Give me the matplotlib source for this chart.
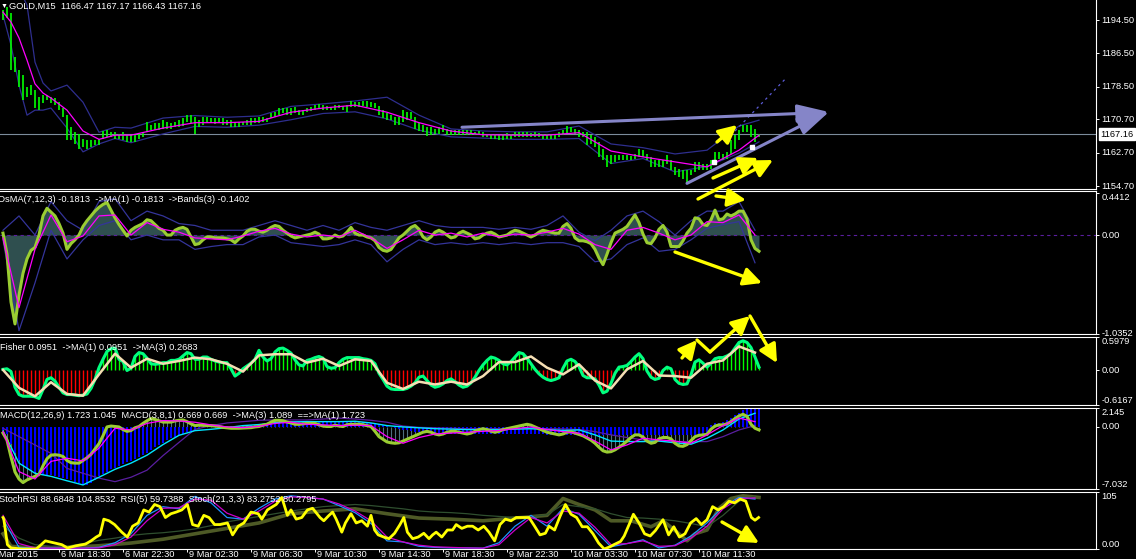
import numpy as np
import matplotlib
matplotlib.use("Agg")
import matplotlib.pyplot as plt
from matplotlib.patches import FancyArrowPatch

plt.rcParams['font.family'] = ['Liberation Sans', 'DejaVu Sans']

# ======================= DATA =======================
chart_title = "GOLD,M15  1166.47 1167.17 1166.43 1167.16"
osma_title = "OsMA(7,12,3) -0.1813  ->MA(1) -0.1813  ->Bands(3) -0.1402"
fisher_title = "Fisher 0.0951  ->MA(1) 0.0951  ->MA(3) 0.2683"
macd_title = "MACD(12,26,9) 1.723 1.045  MACD(3,8,1) 0.669 0.669  ->MA(3) 1.089  ==>MA(1) 1.723"
stoch_title = "StochRSI 88.6848 104.8532  RSI(5) 59.7388  Stoch(21,3,3) 83.2752 80.2795"

price_ticks = [1194.5, 1186.5, 1178.5, 1170.7, 1162.7, 1154.7]
price_tick_labels = ['1194.50', '1186.50', '1178.50', '1170.70', '1162.70', '1154.70']
last_price = 1167.16

time_idx = [-3.5, 14, 30, 46, 62, 78, 94, 110, 126, 142, 158, 174]
time_labels = ["6 Mar 2015", "6 Mar 18:30", "6 Mar 22:30", "9 Mar 02:30", "9 Mar 06:30",
               "9 Mar 10:30", "9 Mar 14:30", "9 Mar 18:30", "9 Mar 22:30",
               "10 Mar 03:30", "10 Mar 07:30", "10 Mar 11:30"]

price_high = [
    1196.9, 1197.7, 1196.1, 1185.7, 1182.5, 1181.3, 1178.5, 1178.9, 1177.7, 1176.1,
    1176.5, 1176.5, 1176.1, 1175.7, 1174.9, 1173.3, 1171.7, 1168.9, 1167.7, 1167.3,
    1166.1, 1165.7, 1165.7, 1165.7, 1166.1, 1168.0, 1168.1, 1167.7, 1167.7, 1167.3,
    1167.7, 1166.9, 1166.9, 1166.9, 1167.3, 1167.7, 1170.1, 1169.3, 1169.7, 1169.7,
    1170.5, 1170.1, 1169.7, 1170.1, 1170.5, 1170.9, 1171.7, 1171.7, 1171.3, 1170.5,
    1171.3, 1171.3, 1170.9, 1170.9, 1170.9, 1170.9, 1170.5, 1170.5, 1170.1, 1170.1,
    1170.1, 1170.5, 1170.9, 1170.9, 1171.3, 1171.3, 1170.9, 1172.1, 1172.5, 1173.3,
    1173.3, 1173.3, 1173.3, 1173.6, 1172.9, 1172.9, 1173.3, 1173.7, 1174.1, 1174.4,
    1174.1, 1173.9, 1173.7, 1174.1, 1174.1, 1173.9, 1174.1, 1175.2, 1174.9, 1174.9,
    1175.2, 1175.2, 1174.9, 1174.5, 1173.9, 1172.9, 1172.1, 1171.7, 1171.3, 1171.2,
    1172.9, 1172.5, 1172.5, 1171.3, 1169.7, 1169.3, 1168.9, 1168.9, 1168.5, 1168.9,
    1169.3, 1168.5, 1168.1, 1168.1, 1168.1, 1168.1, 1168.1, 1168.1, 1167.7, 1167.9,
    1167.7, 1167.3, 1167.3, 1167.3, 1166.9, 1167.3, 1167.5, 1167.3, 1167.7, 1167.7,
    1167.7, 1167.7, 1167.5, 1167.7, 1167.5, 1167.3, 1167.3, 1167.3, 1167.3, 1167.7,
    1168.1, 1169.1, 1168.9, 1168.5, 1168.1, 1167.7, 1167.7, 1166.9, 1166.5, 1165.3,
    1163.7, 1162.1, 1162.1, 1162.1, 1162.1, 1162.1, 1162.1, 1161.9, 1162.5, 1163.7,
    1163.3, 1162.5, 1161.7, 1160.9, 1160.9, 1160.9, 1162.1, 1160.9, 1159.3, 1158.9,
    1158.5, 1158.5, 1158.5, 1160.5, 1160.5, 1160.1, 1160.1, 1160.9, 1162.9, 1162.9,
    1162.5, 1162.9, 1165.7, 1166.9, 1168.1, 1169.3, 1169.3, 1169.3, 1168.5, 1167.3]
price_low = [
    1194.5, 1194.9, 1182.5, 1182.1, 1178.5, 1175.3, 1176.1, 1176.5, 1173.3, 1172.9,
    1174.5, 1175.3, 1174.5, 1174.1, 1172.9, 1171.3, 1165.7, 1165.7, 1164.9, 1163.7,
    1164.1, 1163.7, 1164.1, 1164.5, 1164.5, 1166.1, 1166.5, 1166.5, 1166.1, 1166.1,
    1165.7, 1165.3, 1165.3, 1165.3, 1166.1, 1166.5, 1167.7, 1168.1, 1168.1, 1168.1,
    1168.5, 1168.5, 1168.5, 1168.9, 1168.9, 1169.1, 1170.1, 1169.7, 1167.3, 1168.9,
    1169.3, 1169.7, 1169.7, 1169.6, 1169.7, 1169.3, 1169.3, 1168.9, 1168.9, 1168.9,
    1169.3, 1169.3, 1169.3, 1169.7, 1169.7, 1170.1, 1170.1, 1170.9, 1171.3, 1171.7,
    1172.1, 1171.7, 1171.7, 1172.1, 1171.7, 1171.7, 1172.5, 1172.7, 1172.9, 1173.3,
    1172.9, 1172.9, 1172.9, 1172.9, 1173.3, 1172.9, 1172.5, 1173.7, 1173.7, 1173.7,
    1173.9, 1173.7, 1173.7, 1173.3, 1171.7, 1170.9, 1170.5, 1170.5, 1169.3, 1169.3,
    1170.1, 1170.5, 1170.7, 1168.5, 1168.0, 1167.7, 1166.7, 1166.9, 1167.3, 1167.3,
    1167.7, 1166.9, 1166.9, 1166.9, 1166.9, 1166.9, 1166.9, 1166.9, 1166.9, 1166.9,
    1166.5, 1166.5, 1166.1, 1166.1, 1165.7, 1165.7, 1166.1, 1166.1, 1166.4, 1166.4,
    1166.5, 1166.5, 1166.5, 1166.5, 1166.4, 1166.1, 1166.1, 1165.9, 1166.1, 1166.5,
    1166.9, 1167.3, 1167.7, 1167.3, 1166.5, 1166.5, 1164.5, 1164.9, 1164.1, 1161.7,
    1160.9, 1159.3, 1160.1, 1160.5, 1160.9, 1160.9, 1160.9, 1160.9, 1161.3, 1161.7,
    1161.7, 1160.9, 1159.3, 1159.3, 1159.3, 1159.3, 1160.1, 1158.5, 1157.3, 1156.9,
    1156.5, 1155.3, 1157.3, 1158.1, 1158.5, 1158.5, 1158.5, 1158.9, 1160.1, 1161.3,
    1160.9, 1161.3, 1162.5, 1163.7, 1165.7, 1167.7, 1167.7, 1166.5, 1165.3, 1166.5]

ma_idx = [0, 2, 4, 6, 8, 10, 12, 16, 20, 24, 28, 32, 40, 48, 56, 64, 72, 80, 88, 96,
          104, 112, 120, 128, 136, 144, 152, 160, 168, 176, 184, 189]
ma_mid = [1196.4, 1194.0, 1190.2, 1184.9, 1179.2, 1177.0, 1175.8, 1172.9, 1167.9, 1165.9,
          1166.9, 1166.9, 1168.6, 1169.9, 1169.9, 1170.2, 1172.4, 1173.4, 1174.1, 1172.4,
          1169.9, 1167.9, 1167.0, 1166.9, 1166.9, 1167.5, 1163.1, 1161.7, 1160.5, 1159.3,
          1163.3, 1166.9]
ma_upper = [1203.0, 1203.0, 1202.0, 1198.1, 1184.4, 1179.4, 1177.5, 1178.9, 1174.8, 1167.6,
            1168.8, 1168.6, 1171.0, 1171.6, 1171.2, 1171.5, 1173.8, 1174.4, 1175.1, 1176.0,
            1171.7, 1168.4, 1167.9, 1167.7, 1167.7, 1169.1, 1164.8, 1163.9, 1162.4, 1163.3,
            1169.1, 1170.5]
ma_lower = [1195.7, 1188.5, 1178.9, 1171.7, 1172.9, 1172.9, 1173.4, 1168.6, 1162.9, 1164.8,
            1166.1, 1165.1, 1167.2, 1169.0, 1168.8, 1169.3, 1170.6, 1172.1, 1172.5, 1170.8,
            1168.1, 1166.5, 1166.2, 1165.9, 1165.9, 1166.1, 1160.1, 1161.3, 1158.1, 1159.4,
            1162.6, 1165.3]

trend_upper_idx = [114.75, 206.75]
trend_upper_price = [1168.8, 1172.4]
trend_lower_idx = [171.0, 206.75]
trend_lower_price = [1155.35, 1172.7]
dotted_idx = [183.0, 196.0]
dotted_price = [1167.9, 1180.8]
anchor_idx = [177.75, 187.25]
anchor_price = [1160.5, 1164.05]

coarse_idx = list(range(0, 189, 4))

osma_main = [
    0.02, -0.20, -0.70, -0.93, -0.63, -0.40, -0.25, -0.16, -0.13, 0.00,
    0.20, 0.28, 0.24, 0.20, 0.12, 0.02, -0.15, -0.09, -0.05, 0.00,
    0.09, 0.15, 0.20, 0.25, 0.29, 0.32, 0.34, 0.26, 0.18, 0.11,
    0.05, -0.01, 0.05, 0.08, 0.10, 0.12, 0.16, 0.15, 0.11, 0.07,
    0.05, 0.00, 0.00, 0.05, 0.07, 0.08, 0.06, -0.02, -0.10, -0.09,
    -0.05, -0.02, -0.02, -0.03, -0.03, -0.03, -0.04, -0.05, -0.08, -0.04,
    -0.01, 0.04, 0.06, 0.06, 0.04, 0.03, 0.05, 0.08, 0.10, 0.09,
    0.05, 0.02, -0.01, -0.03, -0.02, -0.01, 0.00, 0.01, 0.03, 0.01,
    -0.04, -0.04, -0.03, 0.00, -0.02, -0.01, 0.03, 0.08, 0.02, 0.00,
    0.00, -0.02, -0.03, -0.06, -0.13, -0.16, -0.17, -0.15, -0.09, -0.03,
    0.00, 0.04, 0.08, 0.10, 0.06, -0.02, -0.05, -0.02, 0.03, 0.05,
    0.03, 0.00, -0.03, -0.02, 0.02, 0.04, 0.02, 0.00, -0.04, -0.03,
    0.00, 0.02, 0.03, 0.01, -0.02, -0.01, 0.00, 0.03, 0.05, 0.04,
    0.02, 0.00, -0.02, 0.00, 0.03, 0.05, 0.04, 0.03, 0.02,
    0.02, 0.09, 0.12, 0.07, -0.03, -0.06, -0.06, -0.07, -0.09, -0.15,
    -0.24, -0.31, -0.20, -0.08, 0.02, 0.04, 0.06, 0.09, 0.15, 0.21,
    0.13, 0.01, -0.08, -0.09, -0.03, 0.06, 0.10, 0.03, -0.12, -0.12,
    -0.12, -0.06, 0.02, 0.07, 0.18, 0.17, 0.11, 0.10, 0.16, 0.26,
    0.16, 0.17, 0.22, 0.20, 0.22, 0.25, 0.25, 0.17, -0.05, -0.14,
    -0.17]
osma_ma = [-0.03, -0.76, -0.15, 0.21, -0.07, -0.01, 0.20, 0.21, 0.00, 0.13,
           0.06, 0.03, -0.03, -0.04, -0.05, -0.01, 0.04, 0.07, 0.01, -0.02,
           0.00, -0.02, 0.05, -0.03, -0.14, -0.05, 0.05, 0.00, 0.02, -0.02,
           0.02, -0.02, 0.01, 0.00, 0.03, 0.07, 0.01, -0.10, -0.15, 0.05,
           0.08, 0.02, -0.05, 0.00, 0.14, 0.13, 0.21, 0.00]
osma_band_up = [0.05, 0.20, 0.00, 0.35, 0.15, 0.05, 0.35, 0.38, 0.15, 0.25,
                0.20, 0.12, 0.10, 0.05, 0.05, 0.05, 0.10, 0.15, 0.10, 0.05,
                0.10, 0.05, 0.13, 0.08, 0.05, 0.10, 0.15, 0.10, 0.08, 0.08,
                0.08, 0.06, 0.08, 0.06, 0.10, 0.20, 0.03, -0.06, 0.05, 0.20,
                0.25, 0.14, 0.00, 0.15, 0.25, 0.25, 0.35, 0.05]
osma_band_dn = [-0.05, -1.00, -0.50, 0.05, -0.25, -0.05, 0.10, 0.15, -0.05, 0.00,
                -0.05, -0.05, -0.15, -0.12, -0.10, -0.10, -0.02, 0.00, -0.08, -0.10,
                -0.12, -0.10, -0.05, -0.10, -0.28, -0.15, -0.05, -0.10, -0.08, -0.10,
                -0.08, -0.10, -0.08, -0.10, -0.08, -0.08, -0.12, -0.28, -0.25, -0.10,
                -0.03, -0.17, -0.15, -0.05, 0.07, 0.11, 0.14, -0.29]

fisher_main = [
    0.02, 0.03, -0.02, -0.30, -0.43, -0.46, -0.46, -0.46, -0.47, -0.50,
    -0.34, -0.16, -0.13, -0.19, -0.30, -0.40, -0.43, -0.43, -0.44, -0.45,
    -0.44, -0.42, -0.32, -0.16, 0.05, 0.20, 0.34, 0.39, 0.40, 0.20,
    0.16, 0.00, 0.04, 0.25, 0.32, 0.30, 0.22, 0.12, 0.11, 0.12,
    0.14, 0.14, 0.18, 0.18, 0.20, 0.26, 0.32, 0.30, 0.20, 0.20,
    0.24, 0.24, 0.20, 0.17, 0.15, 0.14, 0.14, 0.03, -0.10, -0.05,
    0.03, 0.08, 0.13, 0.20, 0.36, 0.24, 0.17, 0.21, 0.33, 0.39,
    0.40, 0.36, 0.31, 0.19, 0.10, 0.08, 0.18, 0.20, 0.23, 0.25,
    0.22, 0.07, 0.04, 0.05, 0.14, 0.20, 0.23, 0.23, 0.23, 0.23,
    0.21, 0.20, 0.18, 0.12, -0.05, -0.16, -0.28, -0.33, -0.34, -0.34,
    -0.34, -0.32, -0.28, -0.22, -0.12, -0.10, -0.18, -0.26, -0.30, -0.28,
    -0.24, -0.18, -0.15, -0.20, -0.26, -0.30, -0.28, -0.22, -0.12, 0.00,
    0.10, 0.18, 0.24, 0.22, 0.18, 0.12, 0.10, 0.16, 0.24, 0.32,
    0.30, 0.22, 0.12, 0.02, -0.06, -0.12, -0.16, -0.18, -0.16,
    -0.13, 0.04, 0.17, 0.20, 0.16, 0.07, -0.09, -0.13, -0.13, -0.15,
    -0.26, -0.40, -0.37, -0.23, -0.05, 0.06, 0.07, 0.09, 0.16, 0.24,
    0.30, 0.21, -0.01, -0.12, -0.16, -0.14, 0.00, 0.06, 0.03, -0.16,
    -0.23, -0.25, -0.24, -0.08, 0.15, 0.19, 0.13, 0.06, 0.13, 0.21,
    0.23, 0.23, 0.26, 0.30, 0.40, 0.50, 0.53, 0.50, 0.41, 0.24,
    0.06]
fisher_ma = [0.01, -0.31, -0.46, -0.21, -0.42, -0.45, -0.07, 0.30, 0.05, 0.21,
             0.12, 0.17, 0.23, 0.20, 0.12, -0.02, 0.27, 0.29, 0.29, 0.14,
             0.21, 0.08, 0.20, 0.17, -0.22, -0.33, -0.20, -0.25, -0.20, -0.25,
             -0.10, 0.15, 0.15, 0.25, 0.05, -0.07, 0.11, -0.18, -0.32, 0.02,
             0.17, -0.09, -0.10, -0.13, 0.12, 0.18, 0.43, 0.32]

macd_fast = [
    -0.7, -1.5, -3.4, -5.1, -5.9, -6.3, -6.0, -5.8, -5.6, -5.4,
    -4.4, -3.6, -3.2, -3.15, -3.2, -3.35, -3.8, -4.05, -4.1, -4.1,
    -3.8, -3.5, -3.1, -2.5, -1.9, -1.0, 0.0, 0.1, 0.05, 0.0,
    -0.3, -0.5, -0.4, -0.1, 0.05, 0.4, 0.7, 0.95, 0.85, 0.7,
    0.55, 0.55, 0.55, 0.68, 0.75, 0.79, 0.6, 0.35, 0.15, 0.2,
    0.18, 0.15, 0.15, 0.1, 0.05, -0.05, -0.1, -0.15, -0.15, -0.15,
    -0.12, -0.1, -0.08, 0.0, 0.05, 0.2, 0.3, 0.55, 0.75, 0.75,
    0.7, 0.55, 0.45, 0.3, 0.3, 0.35, 0.4, 0.4, 0.4, 0.25,
    0.1, 0.05, 0.05, 0.2, 0.1, 0.05, 0.25, 0.3, 0.3, 0.3,
    0.25, 0.15, 0.05, -0.5, -1.1, -1.4, -1.7, -1.8, -1.85, -1.8,
    -1.6, -1.4, -1.2, -1.0, -0.8, -0.6, -0.5, -0.6, -0.8, -0.9,
    -0.8, -0.6, -0.5, -0.5, -0.6, -0.7, -0.8, -0.7, -0.5, -0.3,
    -0.2, -0.3, -0.5, -0.6, -0.5, -0.3, -0.2, -0.1, 0.0, 0.1,
    0.2, 0.3, 0.2, 0.0, -0.2, -0.4, -0.6, -0.7, -0.8,
    -0.9, -0.8, -0.6, -0.55, -0.7, -0.85, -1.0, -1.25, -1.5, -1.85,
    -2.3, -2.7, -2.85, -2.8, -2.6, -2.3, -2.0, -1.6, -1.2, -0.9,
    -0.9, -1.15, -1.6, -1.85, -1.75, -1.35, -1.2, -1.2, -1.35, -1.85,
    -2.15, -2.2, -2.0, -1.55, -1.1, -0.95, -0.9, -0.85, -0.25, 0.1,
    0.23, 0.23, 0.35, 0.6, 0.95, 1.25, 1.43, 1.2, 0.3, -0.15,
    -0.34]
macd_hist = [
    -0.3, -0.8, -1.9, -2.9, -3.7, -4.3, -4.7, -4.9, -5.1, -5.2,
    -5.4, -5.45, -5.5, -5.6, -5.7, -5.8, -5.85, -6.0, -6.2, -6.35,
    -6.55, -6.6, -6.4, -6.0, -5.6, -5.35, -5.1, -4.8, -4.6, -4.4,
    -4.2, -4.0, -3.85, -3.6, -3.4, -3.2, -2.9, -2.6, -2.3, -2.1,
    -1.8, -1.5, -1.3, -1.1, -0.9, -0.75, -0.6, -0.5, -0.3, -0.2,
    -0.1, 0.0, 0.05, 0.05, 0.05, 0.1, 0.1, 0.1, 0.1, 0.15,
    0.15, 0.2, 0.2, 0.25, 0.3, 0.3, 0.35, 0.4, 0.45, 0.5,
    0.5, 0.5, 0.5, 0.55, 0.55, 0.55, 0.55, 0.55, 0.55, 0.55,
    0.55, 0.55, 0.55, 0.55, 0.55, 0.55, 0.55, 0.55, 0.55, 0.55,
    0.55, 0.5, 0.45, 0.4, 0.3, 0.2, 0.1, 0.0, -0.1, -0.2,
    -0.3, -0.4, -0.5, -0.55, -0.6, -0.65, -0.7, -0.7, -0.75, -0.75,
    -0.8, -0.8, -0.8, -0.85, -0.85, -0.85, -0.85, -0.85, -0.85, -0.85,
    -0.85, -0.85, -0.85, -0.85, -0.85, -0.85, -0.85, -0.85, -0.85, -0.85,
    -0.85, -0.85, -0.85, -0.85, -0.85, -0.85, -0.9, -0.9, -0.9,
    -0.9, -0.9, -0.9, -0.9, -0.9, -0.9, -0.9, -0.9, -0.9, -0.9,
    -0.9, -0.9, -0.9, -0.9, -0.9, -0.9, -0.9, -0.9, -0.9, -0.9,
    -0.9, -0.9, -0.9, -0.9, -0.9, -0.9, -0.9, -0.9, -0.9, -0.9,
    -0.9, -0.9, -0.9, -0.9, -0.9, -0.9, -0.9, -0.9, 0.2, 0.4,
    0.5, 0.6, 0.8, 1.0, 1.3, 1.6, 1.9, 2.1, 2.1, 2.1,
    2.1]
macd_ma = [-0.53, -5.06, -5.9, -3.9, -3.55, -3.85, -2.4, -0.15, -0.34, 0.4,
           0.72, 0.68, 0.53, 0.23, 0.0, -0.08, 0.07, 0.4, 0.53, 0.3,
           0.23, 0.15, 0.2, 0.15, -1.1, -1.85, -1.2, -0.8, -0.7, -0.6,
           -0.5, -0.4, -0.2, 0.0, -0.3, -0.53, -0.72, -1.6, -2.6, -2.04,
           -1.28, -1.47, -1.6, -1.85, -0.9, 0.15, 1.0, 0.6]
macd_cyan = [-0.45, -4.1, -5.25, -5.6, -6.1, -6.57, -5.7, -4.8, -4.1, -3.2,
             -2.0, -0.95, -0.42, -0.27, -0.08, 0.15, 0.27, 0.49, 0.57, 0.6,
             0.6, 0.6, 0.64, 0.45, 0.15, 0.0, -0.1, -0.2, -0.25, -0.3,
             -0.3, -0.3, -0.25, -0.2, -0.3, -0.4, -0.34, -0.9, -1.6, -1.66,
             -1.66, -1.6, -1.8, -1.96, -1.28, -0.34, 0.9, 1.55]
macd_signal = [-0.15, -1.1, -2.04, -3.0, -4.7, -5.25, -5.8, -6.2, -5.7, -4.9,
               -3.25, -1.75, -0.27, 0.15, 0.45, 0.6, 0.75, 0.79, 0.79, 0.79,
               0.9, 1.0, 0.9, 0.75, 0.53, 0.1, -0.05, -0.1, -0.15, -0.2,
               -0.2, -0.2, -0.2, -0.2, -0.2, -0.23, -0.3, -0.53, -0.9, -1.2,
               -1.47, -1.6, -1.66, -1.66, -1.66, -1.1, -0.34, 0.15]

stoch_yellow_idx = [
    0, 0.2, 1.1, 2, 4.7, 8.3, 9.25, 10.6, 12.9, 14.7, 16.1, 18.3, 20.6, 22, 23.3, 24.25,
    25.2, 26.5, 27.9, 29.7, 31.1, 32.4, 33.8, 35.2, 36.5, 37.9, 39.25, 40.6, 42, 43.3,
    44.7, 46.1, 47.4, 48.8, 50.2, 51.5, 52.9, 54.25, 56.1, 57.4, 58.8, 60.2, 62, 63.8,
    64.7, 66.1, 68.3, 69.7, 71.1, 72, 73.3, 74.7, 76.1, 77.4, 79.25, 80.2, 81.5, 82.4,
    83.3, 84.7, 85.6, 87, 88.3, 89.7, 91.1, 92, 92.9, 93.8, 95.2, 96.5, 97.9, 99.25,
    100.2, 101.1, 102.4, 103.8, 105.2, 106.5, 107.4, 108.3, 109.7, 111.1, 112.4, 113.3,
    114.7, 116.1, 117.4, 118.8, 120.2, 121.5, 122.9, 124.25, 125.6, 127, 128.3, 130.2,
    131.5, 132.9, 134.25, 135.6, 136.5, 137.9,
    139.25, 140.6, 142, 143.4, 144.8, 146.1, 147.5, 148.9, 150.3, 151.7, 153, 154.4,
    155.3, 156.7, 157.6, 159, 160.4, 161.8, 163.1, 165, 166.4, 167.7, 169.1, 170.5,
    171.9, 173.3, 174.6, 176, 177.4, 178.8, 180.2, 181.5, 182.9, 184.3, 185.7, 187.1,
    188, 188.9]
stoch_yellow = [
    58, 55, 8, 2, 0, 0, 6, 15, 11, 8, 2, 6, 9, 15, 22, 26,
    55, 52, 45, 31, 22, 42, 48, 72, 68, 82, 78, 58, 65, 68,
    72, 82, 45, 42, 62, 58, 45, 45, 48, 26, 42, 48, 68, 65,
    55, 72, 82, 95, 62, 72, 55, 58, 72, 75, 58, 52, 62, 68,
    55, 31, 48, 65, 48, 52, 42, 62, 35, 26, 22, 19, 29, 45,
    58, 31, 19, 22, 29, 19, 26, 31, 22, 35, 35, 45,
    38, 42, 42, 35, 42, 31, 15, 45, 55, 52, 58, 58,
    58, 42, 26, 29, 42, 35,
    60, 82, 64, 58, 41, 41, 28, 11, 0, 4, 9, 14,
    24, 48, 64, 48, 28, 24, 34, 54, 26, 41, 22, 28,
    48, 56, 45, 54, 78, 72, 78, 88, 85, 92, 88, 58,
    53, 58]
stoch_blue = [55, 3, 1.5, 1.5, 1.5, 1.5, 3, 11.5, 28, 62,
              78, 74, 97, 85, 58, 55, 75, 92, 98, 95,
              92, 80, 67, 47, 15, 13, 5, 3, 2, 2,
              1.5, 11.5, 42, 62, 42, 75, 64, 34, 4, 10,
              17, 2, 7, 24, 48, 78, 95, 92]
stoch_magenta = [62, 10, 2, 1.5, 1.5, 1.5, 2, 8, 22, 52,
                 75, 76, 92, 90, 66, 55, 70, 88, 96, 95,
                 92, 83, 70, 52, 22, 13, 7, 4, 3, 2,
                 1.5, 8, 35, 58, 48, 70, 66, 40, 8, 10,
                 15, 5, 6, 20, 42, 74, 93, 94]
stoch_thin = [42, 20, 8, 5, 5, 10, 16, 20, 25, 28,
              30, 33, 37, 43, 50, 55, 60, 65, 70, 74,
              78, 80, 82, 80, 77, 74, 70, 68, 67, 65,
              62, 60, 58, 60, 63, 82, 78, 74, 65, 58,
              57, 55, 52, 47, 41, 62, 88, 98]
olive_idx = [0, 2, 8, 16, 24, 32, 40, 48, 56, 64, 72, 80, 88, 96, 104, 112, 120, 128,
             136, 140, 144, 148, 152, 157, 162, 165, 169, 171, 173, 176, 179, 182, 185, 189]
olive_vals = [28, 5, 1.5, 3, 6, 11, 18, 28, 38, 48, 65, 70, 74, 65, 57, 55, 52, 57,
              62, 93, 82, 72, 52, 52, 41, 52, 28, 15, 28, 35, 75, 93, 98, 95]

# ======================= FIGURE =======================
W, H, DPI = 1136, 559, 100
PLOT_W = 1096
FS = 6.7
fig = plt.figure(figsize=(W / DPI, H / DPI), dpi=DPI, facecolor='black')

XMIN, XMAX = -0.75, 273.25


def px_axes(top, bottom):
    return fig.add_axes([0, (H - bottom) / H, PLOT_W / W, (bottom - top) / H])


def style(ax, ylim, ticks, labels, vas, top_spine=True):
    ax.set_facecolor('black')
    ax.set_xlim(XMIN, XMAX)
    ax.set_ylim(*ylim)
    ax.spines['left'].set_visible(False)
    for s in ['top', 'bottom', 'right']:
        ax.spines[s].set_color('white')
        ax.spines[s].set_linewidth(0.8)
    ax.spines['top'].set_visible(top_spine)
    ax.yaxis.tick_right()
    ax.set_yticks(ticks)
    ax.set_yticklabels(labels)
    ax.tick_params(axis='y', colors='white', labelsize=FS, length=2.5, width=0.7, pad=1.5)
    for lbl, va in zip(ax.get_yticklabels(), vas):
        lbl.set_va(va)
    ax.set_xticks([])


def panel_title(ax, text, dx, dy, size=FS):
    ax.annotate(text, xy=(0, 1), xycoords='axes fraction', xytext=(dx, dy),
                textcoords='offset pixels', va='center', ha='left', color='white',
                fontsize=size, annotation_clip=False, zorder=20)


bar_idx = np.arange(len(price_high))

# ---------- main price panel ----------
ax = px_axes(0, 189)
style(ax, (1154.0, 1199.3), price_ticks, price_tick_labels, ['center'] * 6, top_spine=False)
ax.axhline(last_price, color='#7C8C9C', lw=0.8, zorder=1)
ax.plot(ma_idx, ma_upper, color='#2E2E8E', lw=0.9, zorder=2)
ax.plot(ma_idx, ma_lower, color='#2E2E8E', lw=0.9, zorder=2)
ax.vlines(bar_idx, price_low, price_high, color='#00FF00', lw=1.2, zorder=3)
ax.plot(ma_idx, ma_mid, color='#FF00FF', lw=0.9, zorder=4)
ax.plot(dotted_idx, dotted_price, color='#5B5BD6', lw=0.9, ls=(0, (2, 3)), zorder=5)
for xi, yi in [(trend_upper_idx, trend_upper_price), (trend_lower_idx, trend_lower_price)]:
    ax.annotate('', xy=(xi[1], yi[1]), xytext=(xi[0], yi[0]),
                arrowprops=dict(arrowstyle='-|>,head_length=0.9,head_width=0.25',
                                mutation_scale=22, lw=2.2, color='#8585C8',
                                shrinkA=0, shrinkB=0), zorder=6)
ax.plot(anchor_idx, anchor_price, 's', ms=2.5, color='white', zorder=7)
ax.annotate('1167.16', xy=(1, last_price), xycoords=('axes fraction', 'data'),
            xytext=(4, 0), textcoords='offset pixels', va='center', ha='left',
            color='black', fontsize=FS, annotation_clip=False,
            bbox=dict(boxstyle='square,pad=0.15', fc='white', ec='white'))
panel_title(ax, chart_title, 9, -6)
panel_title(ax, '\u25BC', 1, -6, size=5)

# ---------- OsMA panel ----------
ax = px_axes(191, 334)
style(ax, (-1.0352, 0.4607), [0.4412, 0, -1.0352], ['0.4412', '0.00', '-1.0352'],
      ['top', 'center', 'center'])
ax.fill_between(bar_idx, 0, osma_main, color='#2F4F4F', lw=0, zorder=1)
ax.axhline(0, color='#5A1E9E', lw=0.8, ls=(0, (3, 3)), zorder=2)
ax.plot(coarse_idx, osma_band_up, color='#34349A', lw=0.9, zorder=3)
ax.plot(coarse_idx, osma_band_dn, color='#34349A', lw=0.9, zorder=3)
ax.plot(bar_idx, osma_main, color='#9ACD32', lw=2.2, zorder=4)
ax.plot(coarse_idx, osma_ma, color='#FF00FF', lw=0.9, zorder=5)
panel_title(ax, osma_title, -2, -9)

# ---------- Fisher panel ----------
ax = px_axes(337, 405)
style(ax, (-0.6167, 0.5979), [0.5979, 0, -0.6167], ['0.5979', '0.00', '-0.6167'],
      ['top', 'center', 'bottom'])
fcol = ['#00FF00' if v >= 0 else '#FF0000' for v in fisher_main]
ax.vlines(bar_idx, 0, fisher_main, colors=fcol, lw=1.0, zorder=1)
ax.plot(bar_idx, fisher_main, color='#00FF7F', lw=2.2, zorder=2)
ax.plot(coarse_idx, fisher_ma, color='#F5DEB3', lw=1.8, zorder=3)
panel_title(ax, fisher_title, 0, -10)

# ---------- MACD panel ----------
ax = px_axes(408, 489)
style(ax, (-7.032, 2.145), [2.145, 0, -7.032], ['2.145', '0.00', '-7.032'],
      ['top', 'center', 'bottom'])
ax.vlines(bar_idx, 0, macd_fast, color='#4F6F7F', lw=0.8, zorder=1)
ax.bar(bar_idx, macd_hist, width=0.6, color='#0000FF', lw=0, zorder=2)
ax.plot(coarse_idx, macd_signal, color='#5A1EA0', lw=0.9, zorder=3)
ax.plot(coarse_idx, macd_cyan, color='#00E5FF', lw=1.0, zorder=4)
ax.plot(bar_idx, macd_fast, color='#9ACD32', lw=2.2, zorder=5)
ax.plot(coarse_idx, macd_ma, color='#FF00FF', lw=0.9, zorder=6)
panel_title(ax, macd_title, 0, -8)

# ---------- StochRSI panel ----------
ax = px_axes(492, 549)
style(ax, (0, 105), [105, 0], ['105', '0.00'], ['top', 'bottom'])
ax.plot(olive_idx, olive_vals, color='#4E5A26', lw=2.6, zorder=1)
ax.plot(coarse_idx, stoch_thin, color='#2F4F2F', lw=0.9, zorder=2)
ax.plot(coarse_idx, stoch_blue, color='#1E90FF', lw=0.9, zorder=3)
ax.plot(coarse_idx, stoch_magenta, color='#CC00CC', lw=0.9, zorder=4)
ax.plot(stoch_yellow_idx, stoch_yellow, color='#FFFF00', lw=2.0, zorder=5)
panel_title(ax, stoch_title, -1, -7)
ax.set_xticks(time_idx[1:])
ax.set_xticklabels([''] * len(time_idx[1:]))
ax.tick_params(axis='x', colors='white', length=2.5, width=0.7)
for ti, tl in zip(time_idx, time_labels):
    ax.annotate(tl, xy=(ti, 0), xycoords=('data', 'axes fraction'), xytext=(2, -1),
                textcoords='offset pixels', va='top', ha='left', color='white',
                fontsize=FS, annotation_clip=False)

# ---------- hand-drawn yellow annotation arrows (figure pixels) ----------
yellow_arrows = [((717, 142), (737, 125)), ((713, 178), (758, 158)), ((698, 199), (773, 160)),
                 ((716, 196), (746, 200)), ((675, 252), (762, 283)), ((682, 358), (697, 340)),
                 ((710, 352), (750, 316)), ((750, 316), (777, 363)), ((722, 522), (759, 543))]
yellow_segments = [((697, 340), (710, 352))]


def fp(p):
    return (p[0] / W, 1 - p[1] / H)


for a, b in yellow_arrows:
    fig.add_artist(FancyArrowPatch(fp(a), fp(b), transform=fig.transFigure,
                                   arrowstyle='-|>,head_length=0.5,head_width=0.25',
                                   mutation_scale=22, lw=2.4, color='#FFFF00',
                                   shrinkA=0, shrinkB=0, zorder=30))
for a, b in yellow_segments:
    fig.add_artist(FancyArrowPatch(fp(a), fp(b), transform=fig.transFigure,
                                   arrowstyle='-', lw=2.4, color='#FFFF00',
                                   shrinkA=0, shrinkB=0, zorder=30))

fig.savefig('out.png', dpi=DPI, facecolor='black')
